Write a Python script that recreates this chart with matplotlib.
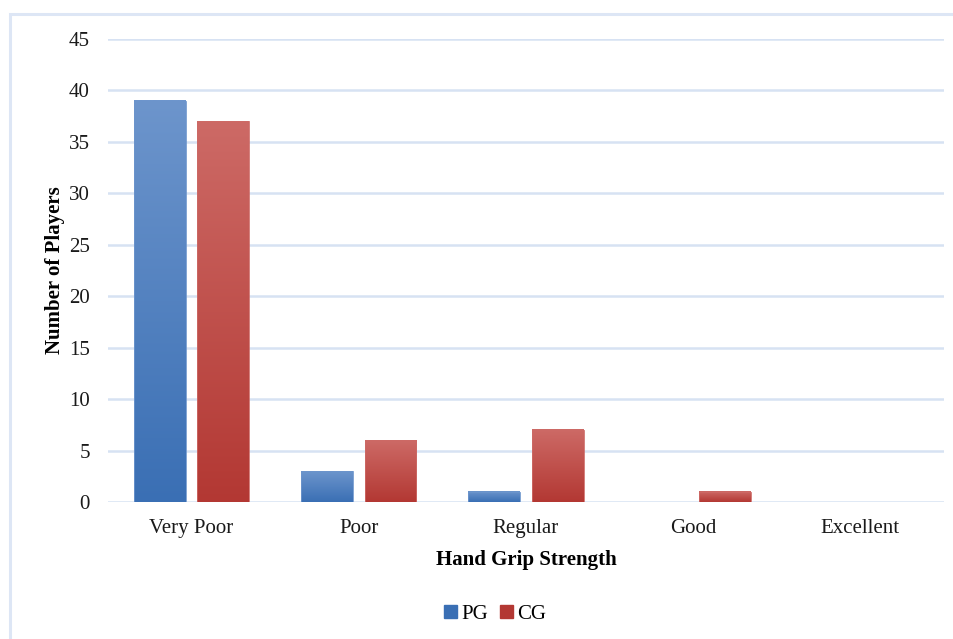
import numpy as np
import matplotlib
matplotlib.use("Agg")
import matplotlib.pyplot as plt
from matplotlib.patches import Rectangle
from matplotlib.colors import LinearSegmentedColormap

plt.rcParams['font.family'] = ['Liberation Serif', 'DejaVu Serif']

categories = ["Very Poor", "Poor", "Regular", "Good", "Excellent"]
pg = [39, 3, 1, 0, 0]
cg = [37, 6, 7, 1, 0]

# gradient colours for each series: (top, bottom)
pg_cols = ("#6d95cc", "#3a6fb4")
cg_cols = ("#cd6a66", "#b33833")

fig = plt.figure(figsize=(9.54, 6.39), dpi=100)
ax = fig.add_axes([0.1132, 0.2144, 0.8763, 0.7246])

# light blue frame round the whole chart
frame = Rectangle((0.011, -0.05), 1.2, 1.028, transform=fig.transFigure,
                  fill=False, edgecolor="#dde6f5", linewidth=2.2, zorder=0)
fig.patches.append(frame)

x = np.arange(len(categories))
width = 0.31
offset = 0.19


def gradient_bars(xs, vals, cols):
    cmap = LinearSegmentedColormap.from_list("g", [cols[1], cols[0]])
    grad = np.linspace(0, 1, 256).reshape(-1, 1)
    for xc, v in zip(xs, vals):
        if v <= 0:
            continue
        ax.imshow(grad, cmap=cmap, origin="lower", aspect="auto",
                  extent=(xc - width / 2, xc + width / 2, 0, v), zorder=3)
        ax.add_patch(Rectangle((xc - width / 2, 0), width, v, fill=False,
                               edgecolor=cols[0], linewidth=0.6, zorder=4))


gradient_bars(x - offset, pg, pg_cols)
gradient_bars(x + offset, cg, cg_cols)

fs = 15
ax.set_xlim(-0.5, len(categories) - 0.5)
ax.set_ylim(0, 45)
ax.set_yticks(range(0, 46, 5))
ax.set_xticks(x)
ax.set_xticklabels(categories)
ax.tick_params(axis="both", length=0, labelsize=fs, colors="#1a1a1a")
ax.tick_params(axis="x", pad=12)
ax.tick_params(axis="y", pad=13)

ax.grid(axis="y", color="#d7e2f3", linewidth=1.8, zorder=0)
ax.set_axisbelow(True)
for s in ax.spines.values():
    s.set_visible(False)

ax.set_xlabel("Hand Grip Strength", fontsize=fs, fontweight="bold", labelpad=9)
ax.set_ylabel("Number of Players", fontsize=fs, fontweight="bold", labelpad=3)

handles = [Rectangle((0, 0), 1, 1, color=pg_cols[1]),
           Rectangle((0, 0), 1, 1, color=cg_cols[1])]
fig.legend(handles, ["PG", "CG"], loc="center", bbox_to_anchor=(0.519, 0.038),
           ncol=2, frameon=False, fontsize=fs, handlelength=0.6,
           handleheight=0.6, handletextpad=0.2, columnspacing=0.6)

fig.savefig("out.png", dpi=100)
